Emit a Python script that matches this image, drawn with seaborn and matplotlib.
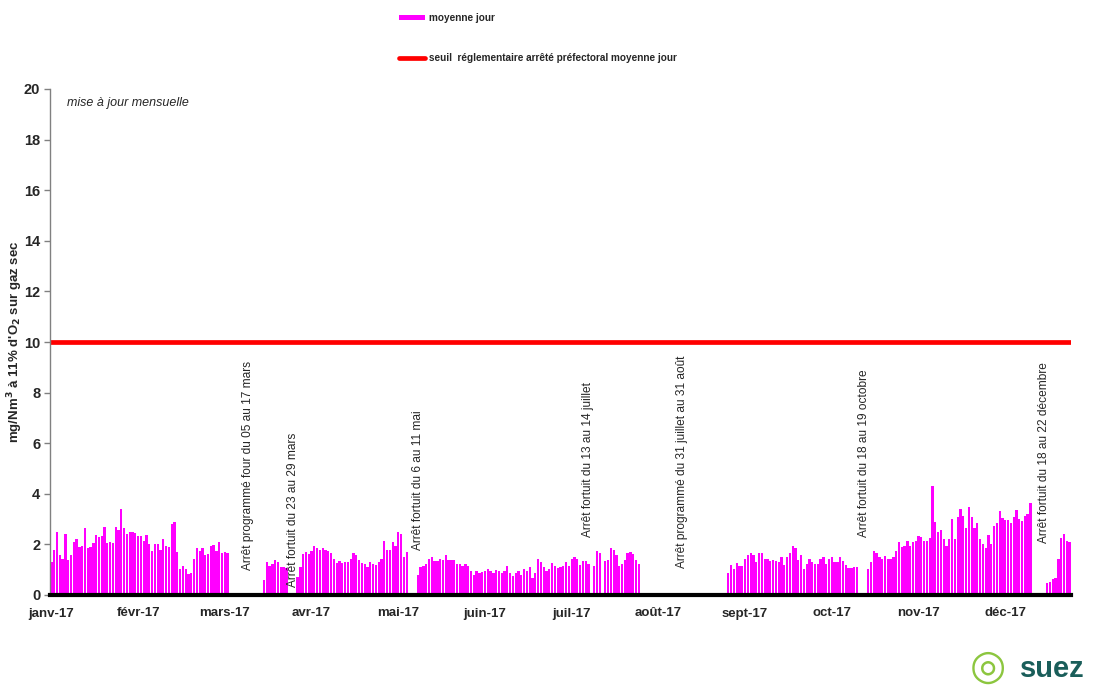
import numpy as np
import pandas as pd
import seaborn as sns
import matplotlib.pyplot as plt
from matplotlib.patches import Patch
from matplotlib.lines import Line2D

# moyennes journalieres 2017 (mg/Nm3), None = arret
janv = [1.32, 1.78, 2.49, 1.58, 1.42, 2.41, 1.38, 1.58, 2.09, 2.21, 1.89, 1.93, 2.64, 1.86, 1.89, 2.05,
        2.37, 2.29, 2.33, 2.68, 2.05, 2.09, 2.05, 2.68, 2.57, 3.39, 2.64, 2.41, 2.49, 2.49, 2.45]
fevr = [2.33, 2.33, 2.13, 2.37, 2.01, 1.74, 2.01, 2.01, 1.78, 2.21, 1.93, 1.90, 2.80, 2.88, 1.71, 1.03,
        1.14, 1.03, 0.83, 0.87, 1.42, 1.86, 1.74, 1.86, 1.58, 1.62, 1.93, 1.97]
mars = [1.74, 2.09, 1.66, 1.70, 1.66] + [None] * 12 + \
       [0.59, 1.30, 1.14, 1.22, 1.38, 1.30, 1.11, 1.11, 1.07] + [None] * 3 + [0.71, 1.11]
avr = [1.62, 1.70, 1.62, 1.74, 1.93, 1.86, 1.78, 1.86, 1.78, 1.74, 1.66, 1.42, 1.26, 1.34, 1.26, 1.30,
       1.30, 1.42, 1.66, 1.58, 1.38, 1.26, 1.22, 1.11, 1.30, 1.22, 1.18, 1.30, 1.42, 2.13]
mai = [1.78, 1.78, 2.09, 1.93, 2.49, 2.41, 1.50, 1.70] + [None] * 3 + \
      [0.79, 1.11, 1.14, 1.22, 1.42, 1.50, 1.34, 1.34, 1.42, 1.38, 1.58, 1.38, 1.38, 1.38, 1.22, 1.22,
       1.14, 1.22, 1.14, 0.95]
juin = [0.79, 0.95, 0.87, 0.91, 0.95, 1.03, 0.95, 0.87, 0.99, 0.95, 0.87, 0.95, 1.14, 0.87, 0.75, 0.87,
        0.95, 0.79, 1.03, 0.95, 1.11, 0.67, 0.87, 1.42, 1.30, 1.11, 0.95, 1.03, 1.26, 1.14]
juil = [1.07, 1.11, 1.14, 1.30, 1.14, 1.42, 1.50, 1.42, 1.18, 1.34, 1.34, 1.22, None, 1.14, 1.74, 1.66,
        None, 1.34, 1.38, 1.86, 1.78, 1.58, 1.14, 1.22, 1.38, 1.66, 1.70, 1.62, 1.38, 1.22, None]
aout = [None] * 30 + [0.87]
sept = [1.18, 1.03, 1.26, 1.14, 1.14, 1.42, 1.58, 1.66, 1.58, 1.30, 1.66, 1.66, 1.42, 1.42, 1.34, 1.38,
        1.34, 1.30, 1.50, 1.18, 1.50, 1.66, 1.93, 1.86, 1.38, 1.58, 1.03, 1.22, 1.42, 1.30]
octo = [1.22, 1.22, 1.42, 1.50, 1.22, 1.42, 1.50, 1.30, 1.30, 1.50, 1.34, 1.18, 1.07, 1.07, 1.11, 1.11] + \
       [None] * 3 + [1.03, 1.30, 1.74, 1.66, 1.50, 1.42, 1.54, 1.42, 1.42, 1.50, 1.74, 2.09]
nov = [1.89, 1.93, 2.13, 1.93, 2.09, 2.13, 2.33, 2.29, 2.13, 2.13, 2.25, 4.30, 2.88, 2.49, 2.57, 2.21,
       1.93, 2.21, 3.00, 2.21, 3.08, 3.39, 3.12, 2.64, 3.47, 3.08, 2.64, 2.84, 2.21, 2.01]
dec = [1.86, 2.37, 2.01, 2.72, 2.84, 3.32, 3.04, 2.96, 2.96, 2.84, 3.08, 3.36, 3.00, 2.92, 3.12, 3.20,
       3.63] + [None] * 5 + [0.47, 0.51, 0.63, 0.67, 1.42, 2.25, 2.41, 2.13, 2.09]

seuil = 10
mois_labels = ['janv-17', 'févr-17', 'mars-17', 'avr-17', 'mai-17', 'juin-17',
               'juil-17', 'août-17', 'sept-17', 'oct-17', 'nov-17', 'déc-17']

arrets = ['Arrêt programmé four du 05 au 17 mars',
          'Arrêt fortuit du 23 au 29 mars',
          'Arrêt fortuit du 6 au 11 mai',
          'Arrêt fortuit du 13 au 14 juillet',
          'Arrêt programmé du 31 juillet au 31 août',
          'Arrêt fortuit du 18 au 19 octobre',
          'Arrêt fortuit du 18 au 22 décembre']
arrets_x = [70.3, 86.4, 131.1, 191.9, 225.5, 290.5, 354.9]
arrets_y = [0.99, 0.32, 1.78, 2.29, 1.07, 2.29, 2.06]

valeurs = janv + fevr + mars + avr + mai + juin + juil + aout + sept + octo + nov + dec
df = pd.DataFrame({'jour': np.arange(len(valeurs)), 'valeur': valeurs}).dropna()

sns.set_style('white')
plt.rcParams['font.family'] = ['Liberation Sans', 'DejaVu Sans']

fig = plt.figure(figsize=(10.95, 6.86), dpi=100)
ax = fig.add_axes([50 / 1095, 91 / 686, 1021 / 1095, 506 / 686])

sns.barplot(data=df, x='jour', y='valeur', native_scale=True, color='#FF00FF',
            saturation=1, width=0.82, errorbar=None, linewidth=0, edgecolor='none', ax=ax)
ax.axhline(seuil, color='#FF0000', lw=3.4)

ax.set_xlim(-0.5, 364.5)
ax.set_ylim(0, 20)
ax.set_yticks(range(0, 21, 2))
ax.set_yticklabels([str(v) for v in range(0, 21, 2)], fontweight='bold', fontsize=10.5)
ax.set_xticks(np.arange(12) * 31)
ax.set_xticklabels(mois_labels, fontsize=9.5, fontweight='bold')
ax.tick_params(axis='x', length=0, pad=9)
ax.tick_params(axis='y', length=4, width=1, color='#808080', direction='out', pad=3, left=True)
ax.set_xlabel('')
ax.set_ylabel("mg/Nm$^\\mathbf{3}$ à 11% d'O$_\\mathbf{2}$ sur gaz sec", fontweight='bold',
              fontsize=9.5)
ax.yaxis.set_label_coords(-0.0245, 0.5)

for s in ['top', 'right']:
    ax.spines[s].set_visible(False)
ax.spines['left'].set_color('#808080')
ax.spines['left'].set_linewidth(1)
ax.spines['bottom'].set_color('black')
ax.spines['bottom'].set_linewidth(3)

ax.text(0.0167, 0.972, 'mise à jour mensuelle', transform=ax.transAxes, style='italic',
        fontsize=9, va='center', ha='left')

for txt, xa, ya in zip(arrets, arrets_x, arrets_y):
    ax.text(xa, ya, txt, rotation=90, ha='center', va='bottom', fontsize=8.6)

handles = [Patch(facecolor='#FF00FF', edgecolor='none'),
           Line2D([], [], color='#FF0000', lw=3.4)]
fig.legend(handles, ['moyenne jour', 'seuil  réglementaire arrêté préfectoral moyenne jour'],
           loc='upper left', bbox_to_anchor=(390 / 1095, 1 - 4 / 686), frameon=False,
           prop={'size': 7.2, 'weight': 'bold'}, labelspacing=3.0, handlelength=2.6,
           handleheight=0.5, handletextpad=0.4)

fig.text(1020 / 1095, 17 / 686, 'suez', fontsize=21, fontweight='bold', color='#1a5e5a',
         ha='left', va='center')
fig.text(988 / 1095, 19 / 686, '◎', fontsize=30, color='#8cc63f', ha='center', va='center',
         family=['DejaVu Sans'])

fig.savefig('out.png', dpi=100)
